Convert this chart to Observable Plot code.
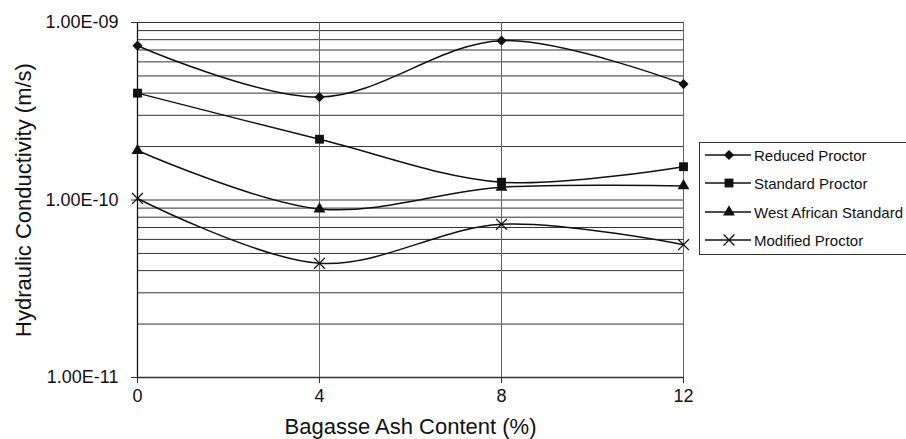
<!DOCTYPE html>
<html>
<head>
<meta charset="utf-8">
<script src="https://cdn.jsdelivr.net/npm/d3@7"></script>
<script src="https://cdn.jsdelivr.net/npm/@observablehq/plot@0.6"></script>
<style>
  html, body { margin: 0; padding: 0; background: #fff; overflow: hidden; }
  #chart { position: relative; width: 906px; height: 439px; font-family: "Liberation Sans", Arial, sans-serif; }
  #legend {
    position: absolute; left: 699px; top: 142px; width: 230px; height: 113px;
    border: 1px solid #333; box-sizing: border-box; background: #fff;
  }
  .row { position: absolute; left: 0; height: 20px; display: flex; align-items: center; }
  .row svg { display: block; }
  .row span { font-size: 15px; color: #111; margin-left: 0; white-space: nowrap; }
</style>
</head>
<body>
<div id="chart"></div>
<script>
// Bagasse ash content (%) along the x axis
const ashContent = [0, 4, 8, 12];

// Hydraulic conductivity (m/s) for each compaction effort
const reducedProctor      = [7.4e-10, 3.8e-10, 7.9e-10, 4.5e-10];
const standardProctor     = [4.0e-10, 2.2e-10, 1.26e-10, 1.54e-10];
const westAfricanStandard = [1.9e-10, 8.9e-11, 1.18e-10, 1.2e-10];
const modifiedProctor     = [1.02e-10, 4.4e-11, 7.3e-11, 5.6e-11];

const seriesNames = ["Reduced Proctor", "Standard Proctor", "West African Standard", "Modified Proctor"];
const seriesValues = [reducedProctor, standardProctor, westAfricanStandard, modifiedProctor];
const seriesSymbols = ["diamond2", "square", "triangle", "times"];

const yTickValues = [1e-9, 1e-10, 1e-11];
const xTickValues = [0, 4, 8, 12];
const xGridValues = [4, 8, 12];

const yDomain = [1e-11, 1e-9];
const yGrid = d3.scaleLog().domain(yDomain).ticks();

const fmtSci = d => {
  const exp = Math.round(Math.log10(d));
  const mant = (d / Math.pow(10, exp)).toFixed(2);
  const sign = exp < 0 ? "-" : "+";
  return `${mant}E${sign}${String(Math.abs(exp)).padStart(2, "0")}`;
};

const rows = seriesNames.flatMap((name, i) =>
  ashContent.map((x, j) => ({series: name, x, y: seriesValues[i][j]})));

const symbolRadius = {diamond2: 4.6, square: 5, triangle: 4.4, times: 5};

const symbolMarks = seriesNames.map((name, i) => {
  const sym = seriesSymbols[i];
  const data = rows.filter(d => d.series === name);
  if (sym === "times") {
    return Plot.dot(data, {x: "x", y: "y", symbol: sym, r: symbolRadius[sym], stroke: "#111", fill: "none", strokeWidth: 1.3});
  }
  return Plot.dot(data, {x: "x", y: "y", symbol: sym, r: symbolRadius[sym], fill: "#111", stroke: "none"});
});

const chart = Plot.plot({
  width: 906,
  height: 439,
  marginLeft: 137,
  marginRight: 223,
  marginTop: 22,
  marginBottom: 62,
  style: {fontFamily: "Liberation Sans, Arial, sans-serif", fontSize: "18px", color: "#111", background: "#fff"},
  x: {domain: [0, 12]},
  y: {type: "log", domain: yDomain},
  marks: [
    Plot.ruleY(yGrid, {stroke: "#333", strokeWidth: 1}),
    Plot.ruleX(xGridValues, {stroke: "#666", strokeWidth: 1}),
    Plot.ruleX([0], {stroke: "#111", strokeWidth: 1.3}),
    Plot.ruleY([1e-11], {stroke: "#333", strokeWidth: 1.3}),
    Plot.axisY(yTickValues, {tickFormat: fmtSci, tickSize: 6, tickPadding: 13, fontSize: 18, label: null, stroke: "#333"}),
    Plot.axisX(xTickValues, {tickSize: 6, tickPadding: 6, fontSize: 18, label: null, stroke: "#333"}),
    Plot.text(["Hydraulic Conductivity (m/s)"], {frameAnchor: "left", textAnchor: "middle", dx: -114, rotate: -90, fontSize: 22, fill: "#111"}),
    Plot.text(["Bagasse Ash Content (%)"], {frameAnchor: "bottom", dy: 56, fontSize: 22, fill: "#111"}),
    Plot.line(rows, {x: "x", y: "y", z: "series", curve: "catmull-rom", stroke: "#111", strokeWidth: 1.5}),
    ...symbolMarks
  ]
});

const container = document.getElementById("chart");
container.appendChild(chart);

// Legend: line sample with the series symbol, then the series name
const legend = document.createElement("div");
legend.id = "legend";
const rowTops = [2, 30, 59, 87];
seriesNames.forEach((name, i) => {
  const row = document.createElement("div");
  row.className = "row";
  row.style.top = rowTops[i] + "px";
  const sym = seriesSymbols[i];
  const d3sym = {diamond2: d3.symbolDiamond2, square: d3.symbolSquare, triangle: d3.symbolTriangle, times: d3.symbolTimes}[sym];
  const r = symbolRadius[sym];
  const path = d3.symbol(d3sym, Math.PI * r * r)();
  const svg = d3.create("svg").attr("width", 54).attr("height", 20);
  svg.append("line").attr("x1", 5).attr("x2", 51).attr("y1", 10).attr("y2", 10)
    .attr("stroke", "#111").attr("stroke-width", 1.5);
  svg.append("path").attr("d", path).attr("transform", "translate(29,10)")
    .attr("fill", sym === "times" ? "none" : "#111")
    .attr("stroke", sym === "times" ? "#111" : "none")
    .attr("stroke-width", 1.3);
  row.appendChild(svg.node());
  const label = document.createElement("span");
  label.textContent = name;
  row.appendChild(label);
  legend.appendChild(row);
});
container.appendChild(legend);
</script>
</body>
</html>
